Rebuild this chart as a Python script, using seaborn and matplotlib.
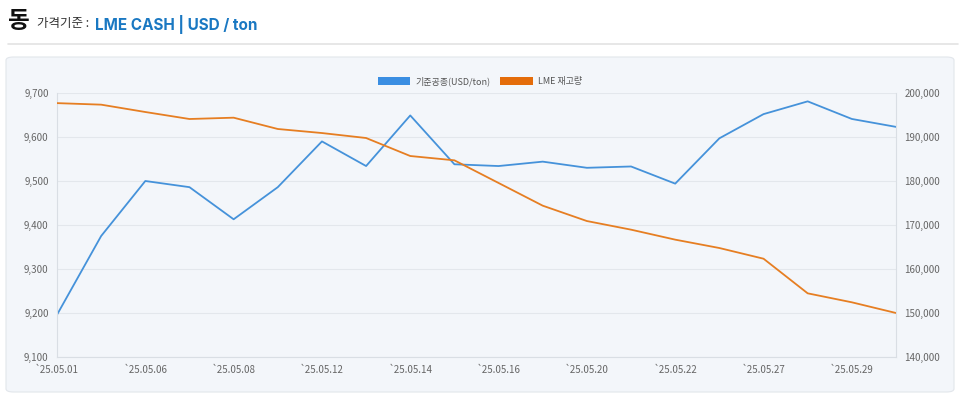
import matplotlib
matplotlib.use("Agg")
import matplotlib.pyplot as plt
import seaborn as sns
import pandas as pd
from matplotlib.patches import FancyBboxPatch, Patch
from matplotlib.ticker import FuncFormatter, FixedLocator

dates = ["25.05.01", "25.05.02", "25.05.06", "25.05.07", "25.05.08", "25.05.09",
         "25.05.12", "25.05.13", "25.05.14", "25.05.15", "25.05.16", "25.05.19",
         "25.05.20", "25.05.21", "25.05.22", "25.05.23", "25.05.27", "25.05.28",
         "25.05.29", "25.05.30"]
price = [9196, 9375, 9500, 9486, 9413, 9486, 9590, 9534, 9649, 9538,
         9534, 9544, 9530, 9533, 9494, 9597, 9652, 9681, 9641, 9623]
stock = [197700, 197350, 195680, 194090, 194390, 191820, 190900, 189770, 185680, 184700,
         179550, 174390, 170900, 168940, 166670, 164770, 162340, 154470, 152430, 150000]
label_price = "기준공종(USD/ton)"
label_stock = "LME 재고량"

sns.set_theme(style="white")
plt.rcParams['font.family'] = ['Noto Sans CJK KR', 'DejaVu Sans']

df = pd.DataFrame({"idx": range(len(dates)), "date": dates, "price": price, "stock": stock})

fig = plt.figure(figsize=(9.6, 3.98), dpi=100)
W, H = 960, 398

# header
fig.text(8 / W, 1 - 21 / H, "동", fontsize=17, fontweight="bold", color="#111111", va="center", ha="left")
fig.text(37 / W, 1 - 24 / H, "가격기준 :", fontsize=9, color="#333333", va="center", ha="left")
fig.text(95 / W, 1 - 24 / H, "LME CASH | USD / ton", fontsize=11, fontweight="bold",
         color="#1a78c2", va="center", ha="left", family=["Inter", "DejaVu Sans"])
fig.add_artist(plt.Line2D([8 / W, 958 / W], [1 - 44 / H, 1 - 44 / H], color="#e3e3e3", lw=1.2))

# panel
panel = FancyBboxPatch((6 / W, 1 - 392 / H), 948 / W, 335 / H,
                       boxstyle="round,pad=0,rounding_size=0.008",
                       transform=fig.transFigure, facecolor="#f3f6fa",
                       edgecolor="#e2e6eb", lw=0.8, zorder=0)
fig.add_artist(panel)

ax = fig.add_axes([57 / W, 1 - 357 / H, (896 - 57) / W, (357 - 93) / H])
ax.set_facecolor("none")
ax2 = ax.twinx()

blue = "#4592da"
orange = "#e67e22"
sns.lineplot(data=df, x="idx", y="price", ax=ax, color=blue, lw=1.3)
sns.lineplot(data=df, x="idx", y="stock", ax=ax2, color=orange, lw=1.3)

ax.set_xlim(0, len(dates) - 1)
ax.set_ylim(9100, 9700)
ax2.set_ylim(140000, 200000)
ax.set_yticks(range(9100, 9701, 100))
ax2.set_yticks(range(140000, 200001, 10000))
fmt = FuncFormatter(lambda v, p: f"{int(v):,}")
ax.yaxis.set_major_formatter(fmt)
ax2.yaxis.set_major_formatter(fmt)

tick_idx = list(range(0, len(dates) - 1, 2))
ax.xaxis.set_major_locator(FixedLocator(tick_idx))
ax.set_xticklabels(["`" + dates[i] for i in tick_idx])

for a in (ax, ax2):
    a.set_xlabel("")
    a.set_ylabel("")
    a.tick_params(axis="both", length=0, labelsize=7, colors="#666666")
    for s in a.spines.values():
        s.set_visible(False)
ax.tick_params(axis="y", pad=6)
ax2.tick_params(axis="y", pad=6)
ax.tick_params(axis="x", pad=6)

ax.grid(axis="y", color="#e3e7ec", lw=0.8)
ax.set_axisbelow(True)
ax.spines["left"].set_visible(True)
ax.spines["bottom"].set_visible(True)
ax2.spines["right"].set_visible(True)
for s in (ax.spines["left"], ax.spines["bottom"], ax2.spines["right"]):
    s.set_color("#d9dee4")
    s.set_linewidth(0.8)

handles = [Patch(facecolor="#3a8ee2", edgecolor="none", label=label_price),
           Patch(facecolor="#e46c0a", edgecolor="none", label=label_stock)]
fig.legend(handles=handles, loc="center", bbox_to_anchor=(480 / W, 1 - 81 / H), ncol=2,
           frameon=False, fontsize=6.5, handlelength=3.6, handleheight=1.0,
           columnspacing=1.0, handletextpad=0.6, labelcolor="#555555")

fig.savefig("out.png", dpi=100)
